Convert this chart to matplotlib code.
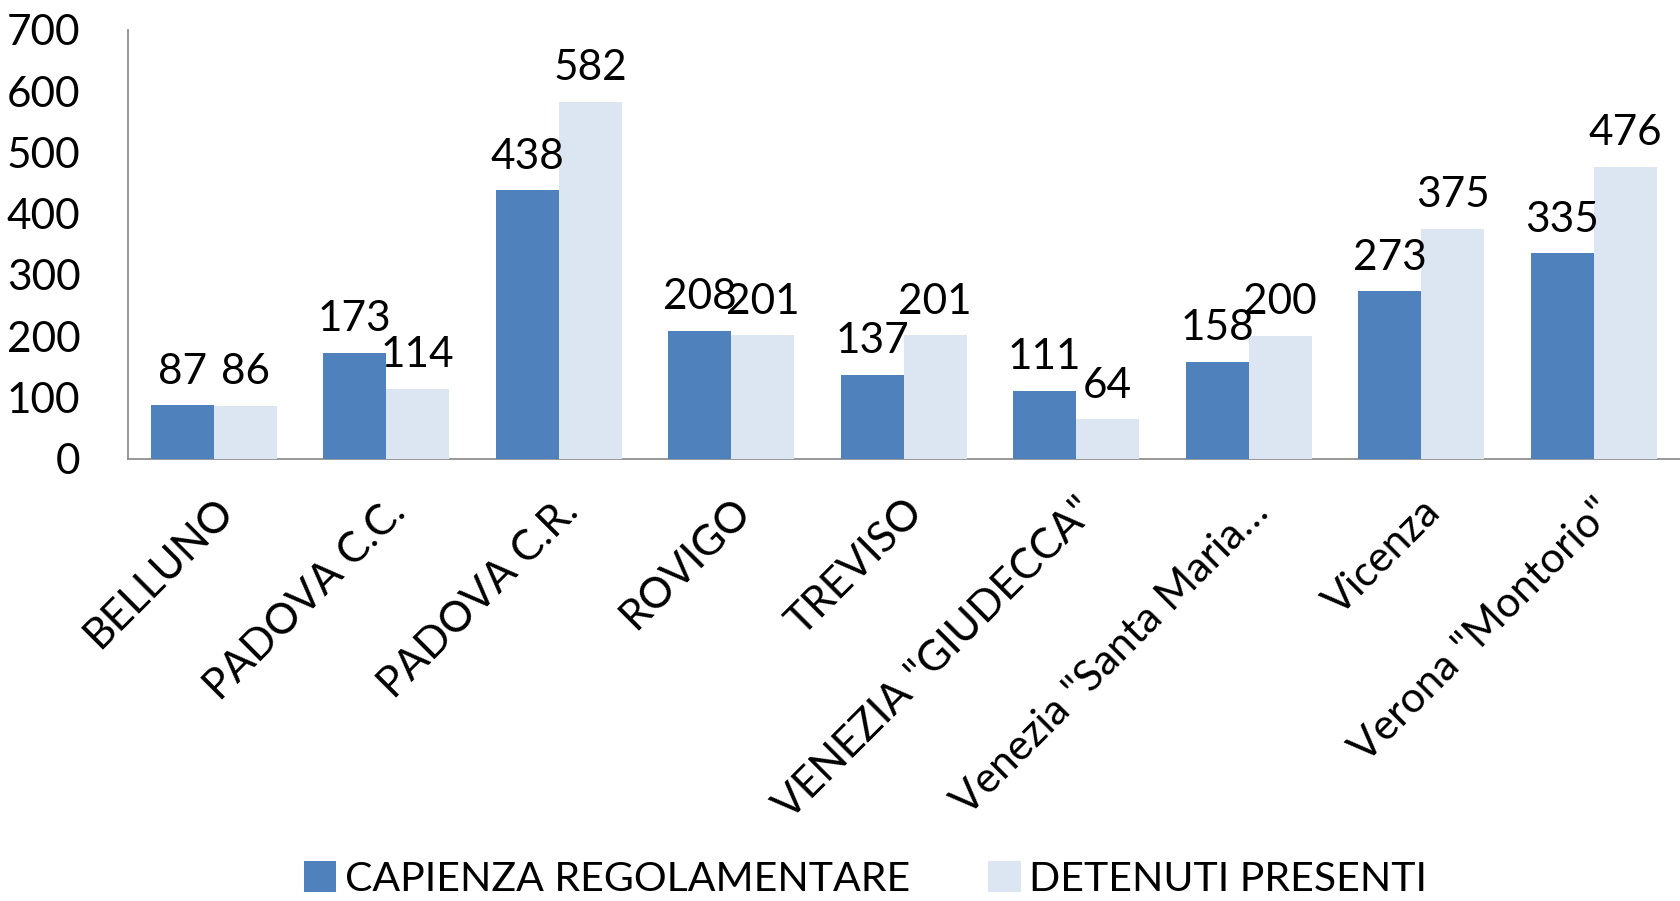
import matplotlib
matplotlib.use("Agg")
import matplotlib.pyplot as plt
import numpy as np

plt.rcParams["font.family"] = ["Lato", "DejaVu Sans"]

# ── dati ──
CATEGORIES = ["BELLUNO", "PADOVA C.C.", "PADOVA C.R.", "ROVIGO", "TREVISO",
              'VENEZIA "GIUDECCA"', 'Venezia "Santa Maria…', "Vicenza",
              'Verona "Montorio"']
CAPIENZA = [87, 173, 438, 208, 137, 111, 158, 273, 335]
DETENUTI = [86, 114, 582, 201, 201, 64, 200, 375, 476]
SERIES_NAMES = ["CAPIENZA REGOLAMENTARE", "DETENUTI PRESENTI"]

C_BLUE = "#4F81BD"
C_LIGHT = "#DCE6F2"
C_AXIS = "#868686"
FS = 30.5

fig = plt.figure(figsize=(16.8, 9.01), dpi=100, facecolor="white")
ax = fig.add_axes([0.0759, 0.491, 0.924, 0.476])

x = np.arange(len(CATEGORIES))
w = 0.365
b1 = ax.bar(x - w / 2, CAPIENZA, w, color=C_BLUE, label=SERIES_NAMES[0], zorder=3)
b2 = ax.bar(x + w / 2, DETENUTI, w, color=C_LIGHT, label=SERIES_NAMES[1], zorder=3)

for bars in (b1, b2):
    for b in bars:
        ax.text(b.get_x() + b.get_width() / 2, b.get_height() + 24,
                str(int(b.get_height())), ha="center", va="bottom",
                fontsize=FS, color="black")

ax.set_xlim(-0.5, len(CATEGORIES) - 0.5)
ax.set_ylim(0, 700)
ax.set_yticks(range(0, 701, 100))
ax.tick_params(axis="y", length=0, pad=34, labelsize=FS)
ax.tick_params(axis="x", length=0, pad=24)
ax.set_xticks(x)
ax.set_xticklabels(CATEGORIES, rotation=45, ha="right", rotation_mode="anchor",
                   fontsize=FS)

for s in ("top", "right"):
    ax.spines[s].set_visible(False)
for s in ("left", "bottom"):
    ax.spines[s].set_color(C_AXIS)
    ax.spines[s].set_linewidth(1.2)

fig.legend(handles=[b1, b2], labels=SERIES_NAMES, loc="center",
           bbox_to_anchor=(0.515, 0.024), ncol=2, frameon=False, fontsize=29.5,
           handlelength=0.8, handleheight=0.8, handletextpad=0.2,
           columnspacing=1.9, borderpad=0.2)

fig.savefig("out.png", dpi=100)
plt.close()
